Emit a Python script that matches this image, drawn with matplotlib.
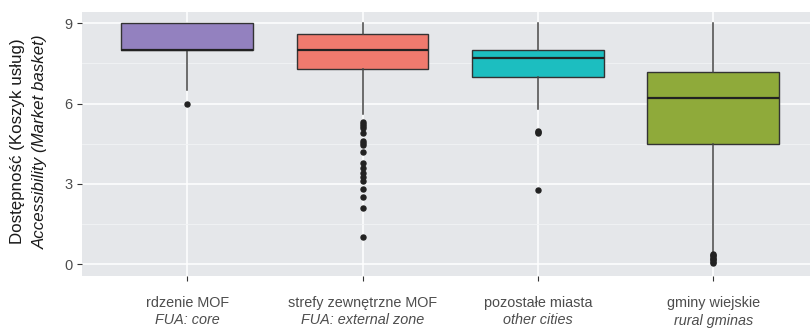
import matplotlib
matplotlib.use("Agg")
import matplotlib.pyplot as plt
from matplotlib.ticker import FixedLocator

# Category labels (Polish / English)
labels_pl = ["rdzenie MOF", "strefy zewnętrzne MOF", "pozostałe miasta", "gminy wiejskie"]
labels_en = ["FUA: core", "FUA: external zone", "other cities", "rural gminas"]

# Box statistics per category
q1 = [8.0, 7.28, 7.0, 4.48]
median = [8.0, 8.0, 7.69, 6.2]
q3 = [9.0, 8.59, 8.0, 7.19]
whisker_low = [6.5, 5.6, 5.8, 0.45]
whisker_high = [9.0, 9.0, 9.0, 9.0]

outliers_core = [6.0]
outliers_external = [5.31, 5.23, 5.15, 5.07, 4.89, 4.59, 4.51, 4.44, 4.18,
                     3.78, 3.6, 3.41, 3.26, 3.1, 2.8, 2.5, 2.09, 1.0]
outliers_cities = [4.98, 4.93, 4.89, 2.79]
outliers_rural = [0.05, 0.1, 0.15, 0.2, 0.25, 0.3, 0.35, 0.4]

fill_colors = ["#9381BF", "#F07A6E", "#1CBEC0", "#8FAA3A"]

y_ticks = [0, 3, 6, 9]
y_minor = [1.5, 4.5, 7.5]

stats = []
for i, fl in enumerate([outliers_core, outliers_external, outliers_cities, outliers_rural]):
    stats.append(dict(q1=q1[i], med=median[i], q3=q3[i],
                      whislo=whisker_low[i], whishi=whisker_high[i], fliers=fl))

fig = plt.figure(figsize=(8.10, 3.29), dpi=100)
ax = fig.add_axes([82 / 810, 53 / 329, 1 - 82 / 810, 264 / 329])
ax.set_facecolor("#E5E7EA")

positions = [1, 2, 3, 4]
bp = ax.bxp(stats, positions=positions, widths=0.75, patch_artist=True,
            showcaps=False,
            boxprops=dict(edgecolor="#333333", linewidth=1.0),
            medianprops=dict(color="#222222", linewidth=1.6),
            whiskerprops=dict(color="#444444", linewidth=1.1),
            flierprops=dict(marker="o", markersize=3.6, markerfacecolor="#222222",
                            markeredgecolor="#222222", linestyle="none"),
            zorder=3)
for patch, c in zip(bp["boxes"], fill_colors):
    patch.set_facecolor(c)

ax.set_xlim(0.4, 4.552)
ax.set_ylim(-0.44, 9.42)

ax.yaxis.set_major_locator(FixedLocator(y_ticks))
ax.yaxis.set_minor_locator(FixedLocator(y_minor))
ax.set_yticklabels([str(t) for t in y_ticks])
ax.set_xticks(positions)
ax.set_xticklabels([""] * 4)

# Two-line category labels: Polish on top, English in italics below
for x, a, b in zip(positions, labels_pl, labels_en):
    ax.annotate(a, xy=(x, 0), xycoords=("data", "axes fraction"),
                xytext=(0, -14.5), textcoords="offset points",
                ha="center", va="top", fontsize=10.4, color="#4D4D4D",
                family="Liberation Sans")
    ax.annotate(b, xy=(x, 0), xycoords=("data", "axes fraction"),
                xytext=(0, -27), textcoords="offset points",
                ha="center", va="top", fontsize=10.4, color="#4D4D4D",
                family="Liberation Sans", style="italic")

ax.grid(True, which="major", axis="both", color="white", linewidth=1.1, zorder=0)
ax.grid(True, which="minor", axis="y", color="#F2F3F5", linewidth=0.6, zorder=0)
ax.set_axisbelow(True)

for s in ax.spines.values():
    s.set_visible(False)

ax.tick_params(axis="both", which="major", length=3.5, width=0.8, color="#333333",
               labelsize=10.5, labelcolor="#4D4D4D")
ax.tick_params(axis="y", which="minor", length=0)
for lab in ax.get_yticklabels():
    lab.set_family("Liberation Sans")

fig.text(18 / 810, 1 - 141 / 329, "Dostępność (Koszyk usług)", rotation=90,
         ha="center", va="center", fontsize=12.2, family="Liberation Sans",
         color="#1A1A1A")
fig.text(40 / 810, 1 - 142 / 329, "Accessibility (Market basket)", rotation=90,
         ha="center", va="center", fontsize=12.2, family="Liberation Sans",
         style="italic", color="#1A1A1A")

fig.savefig("out.png", dpi=100, facecolor="white")
